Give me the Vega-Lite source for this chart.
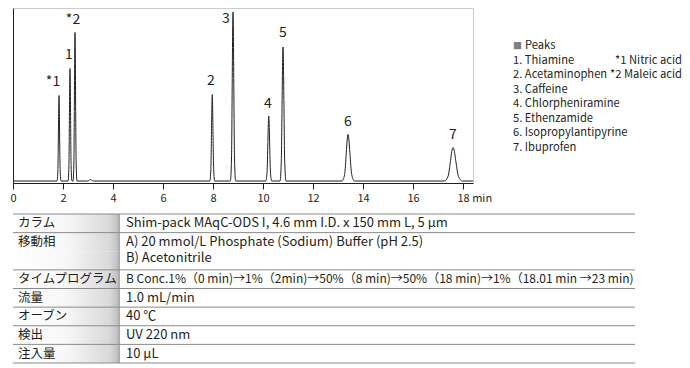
{
  "$schema": "https://vega.github.io/schema/vega-lite/v6.json",
  "padding": {"left": 9, "top": 7, "right": 0, "bottom": 0},
  "spacing": 9,
  "config": {
    "font": "Noto Sans CJK JP",
    "view": {"stroke": null},
    "text": {"color": "#231f20"}
  },
  "datasets": {
    "trace": [
      {"t": 0, "s": 0},
      {"t": 1.763, "s": 0}, {"t": 1.796, "s": 11.6}, {"t": 1.818, "s": 51.9}, {"t": 1.829, "s": 75.4}, {"t": 1.84, "s": 85.5}, {"t": 1.851, "s": 75.4}, {"t": 1.862, "s": 51.9}, {"t": 1.884, "s": 11.6}, {"t": 1.92, "s": 0},
      {"t": 2.203, "s": 0}, {"t": 2.236, "s": 15.2}, {"t": 2.258, "s": 68.3}, {"t": 2.269, "s": 99.3}, {"t": 2.28, "s": 112.5}, {"t": 2.291, "s": 99.3}, {"t": 2.302, "s": 68.3}, {"t": 2.324, "s": 15.2}, {"t": 2.36, "s": 0},
      {"t": 2.403, "s": 0}, {"t": 2.436, "s": 20.1}, {"t": 2.458, "s": 90.1}, {"t": 2.469, "s": 131}, {"t": 2.48, "s": 148.5}, {"t": 2.491, "s": 131}, {"t": 2.502, "s": 90.1}, {"t": 2.524, "s": 20.1}, {"t": 2.56, "s": 0},
      {"t": 2.98, "s": 0}, {"t": 3.06, "s": 0.9}, {"t": 3.1, "s": 1.5}, {"t": 3.14, "s": 0.9}, {"t": 3.22, "s": 0},
      {"t": 7.87, "s": 0}, {"t": 7.914, "s": 11.7}, {"t": 7.942, "s": 52.5}, {"t": 7.956, "s": 76.3}, {"t": 7.97, "s": 86.5}, {"t": 7.984, "s": 76.3}, {"t": 7.998, "s": 52.5}, {"t": 8.026, "s": 11.7}, {"t": 8.07, "s": 0},
      {"t": 8.695, "s": 0}, {"t": 8.74, "s": 23}, {"t": 8.77, "s": 102.5}, {"t": 8.785, "s": 149}, {"t": 8.8, "s": 169}, {"t": 8.815, "s": 149}, {"t": 8.83, "s": 102.5}, {"t": 8.86, "s": 23}, {"t": 8.905, "s": 0},
      {"t": 10.11, "s": 0}, {"t": 10.162, "s": 8.8}, {"t": 10.196, "s": 39.4}, {"t": 10.213, "s": 57.4}, {"t": 10.23, "s": 65}, {"t": 10.247, "s": 57.4}, {"t": 10.264, "s": 39.4}, {"t": 10.298, "s": 8.8}, {"t": 10.35, "s": 0},
      {"t": 10.68, "s": 0}, {"t": 10.73, "s": 18.1}, {"t": 10.765, "s": 81.3}, {"t": 10.783, "s": 118.3}, {"t": 10.8, "s": 134}, {"t": 10.818, "s": 118.3}, {"t": 10.835, "s": 81.3}, {"t": 10.87, "s": 18.1}, {"t": 10.92, "s": 0},
      {"t": 13.16, "s": 0}, {"t": 13.264, "s": 6.3}, {"t": 13.332, "s": 28.2}, {"t": 13.366, "s": 41}, {"t": 13.4, "s": 46.5}, {"t": 13.437, "s": 41}, {"t": 13.475, "s": 28.2}, {"t": 13.55, "s": 6.3}, {"t": 13.66, "s": 0},
      {"t": 17.25, "s": 0}, {"t": 17.4, "s": 4.5}, {"t": 17.5, "s": 20.3}, {"t": 17.55, "s": 29.6}, {"t": 17.6, "s": 33.5}, {"t": 17.655, "s": 29.6}, {"t": 17.71, "s": 20.3}, {"t": 17.82, "s": 4.5}, {"t": 17.98, "s": 0},
      {"t": 18.4, "s": 0}
    ],
    "peaklabels": [
      {"label": "*1", "t": 1.6, "s": 99},
      {"label": "1", "t": 2.24, "s": 126},
      {"label": "*2", "t": 2.4, "s": 161},
      {"label": "2", "t": 7.92, "s": 100},
      {"label": "3", "t": 8.52, "s": 162},
      {"label": "4", "t": 10.2, "s": 77},
      {"label": "5", "t": 10.8, "s": 148},
      {"label": "6", "t": 13.4, "s": 59},
      {"label": "7", "t": 17.6, "s": 46}
    ],
    "legend": [
      {"line": 0, "col": "left", "text": "Peaks"},
      {"line": 1, "col": "left", "text": "1. Thiamine"},
      {"line": 1, "col": "right", "text": "*1 Nitric acid"},
      {"line": 2, "col": "left", "text": "2. Acetaminophen"},
      {"line": 2, "col": "right", "text": "*2 Maleic acid"},
      {"line": 3, "col": "left", "text": "3. Caffeine"},
      {"line": 4, "col": "left", "text": "4. Chlorpheniramine"},
      {"line": 5, "col": "left", "text": "5. Ethenzamide"},
      {"line": 6, "col": "left", "text": "6. Isopropylantipyrine"},
      {"line": 7, "col": "left", "text": "7. Ibuprofen"}
    ],
    "params": [
      {"slot": 0, "line": 1, "item": "カラム", "col": "c", "text": "Shim-pack MAqC-ODS I, 4.6 mm I.D. x 150 mm L, 5 μm"},
      {"slot": 1, "line": 1, "item": "移動相", "col": "c", "text": "A) 20 mmol/L Phosphate (Sodium) Buffer (pH 2.5)"},
      {"slot": 2, "line": 2, "item": "移動相", "col": "c", "text": "B) Acetonitrile"},
      {"slot": 3, "line": 1, "item": "タイムプログラム", "col": "c", "text": "B Conc.1%（0 min)→1%（2min)→50%（8 min)→50%（18 min)→1%（18.01 min →23 min)"},
      {"slot": 4, "line": 1, "item": "流量", "col": "c", "text": "1.0 mL/min"},
      {"slot": 5, "line": 1, "item": "オーブン", "col": "c", "text": "40 ℃"},
      {"slot": 6, "line": 1, "item": "検出", "col": "c", "text": "UV 220 nm"},
      {"slot": 7, "line": 1, "item": "注入量", "col": "c", "text": "10 μL"}
    ]
  },
  "vconcat": [
    {
      "bounds": "flush",
      "spacing": 40,
      "hconcat": [
        {
          "width": 460,
          "height": 175,
          "view": {"stroke": "#cccccc"},
          "layer": [
            {
              "data": {"name": "trace"},
              "mark": {"type": "line", "interpolate": "monotone", "color": "#231f20", "strokeWidth": 1},
              "encoding": {
                "x": {
                  "field": "t", "type": "quantitative",
                  "scale": {"domain": [0, 18.4], "nice": false, "zero": false},
                  "axis": {
                    "title": null, "grid": false,
                    "values": [0, 1, 2, 3, 4, 5, 6, 7, 8, 9, 10, 11, 12, 13, 14, 15, 16, 17, 18],
                    "domainColor": "#231f20", "tickColor": "#231f20",
                    "tickSize": {"condition": {"test": "datum.value % 2 === 1", "value": 3}, "value": 6},
                    "labelExpr": "datum.value % 2 === 1 ? '' : (datum.value === 18 ? '18 min' : datum.label)",
                    "labelAlign": {"condition": {"test": "datum.value === 18", "value": "left"}, "value": "center"},
                    "labelOffset": {"condition": {"test": "datum.value === 18", "value": -6}, "value": 0},
                    "labelFlush": false, "labelOverlap": false, "labelBound": false,
                    "labelFontSize": 11, "labelColor": "#231f20", "labelPadding": 3
                  }
                },
                "y": {
                  "field": "s", "type": "quantitative",
                  "scale": {"domain": [-2, 173], "nice": false, "zero": false},
                  "axis": {"title": null, "ticks": false, "labels": false, "grid": false, "domainColor": "#231f20"}
                }
              }
            },
            {
              "data": {"name": "peaklabels"},
              "mark": {"type": "text", "fontSize": 14, "baseline": "middle"},
              "encoding": {
                "x": {"field": "t", "type": "quantitative"},
                "y": {"field": "s", "type": "quantitative"},
                "text": {"field": "label"}
              }
            }
          ]
        },
        {
          "width": 169,
          "height": 175,
          "data": {"name": "legend"},
          "encoding": {
            "x": {"field": "col", "type": "nominal", "scale": {"type": "point", "domain": ["left", "right"], "padding": 0}, "axis": null},
            "y": {"field": "line", "type": "quantitative", "scale": {"domain": [-2.61, 9.4], "reverse": true, "nice": false, "zero": false}, "axis": null}
          },
          "layer": [
            {
              "transform": [{"filter": "datum.col === 'left' && datum.line > 0"}],
              "mark": {"type": "text", "align": "left", "baseline": "middle", "fontSize": 11.2},
              "encoding": {"text": {"field": "text"}}
            },
            {
              "transform": [{"filter": "datum.line === 0"}],
              "mark": {"type": "text", "align": "left", "baseline": "middle", "fontSize": 11.2, "dx": 12},
              "encoding": {"text": {"field": "text"}}
            },
            {
              "transform": [{"filter": "datum.line === 0"}],
              "mark": {"type": "text", "align": "left", "baseline": "middle", "fontSize": 9, "color": "#808080"},
              "encoding": {"text": {"value": "■"}}
            },
            {
              "transform": [{"filter": "datum.col === 'right'"}],
              "mark": {"type": "text", "align": "right", "baseline": "middle", "fontSize": 11.2},
              "encoding": {"text": {"field": "text"}}
            }
          ]
        }
      ]
    },
    {
      "bounds": "flush",
      "spacing": 0,
      "hconcat": [
        {
          "width": 107,
          "height": 149,
          "data": {"name": "params"},
          "encoding": {
            "y": {"field": "slot", "type": "ordinal", "scale": {"type": "band", "paddingInner": 0, "paddingOuter": 0}, "axis": null}
          },
          "layer": [
            {
              "mark": {"type": "rect", "color": {"gradient": "linear", "x1": 0, "x2": 1, "y1": 0, "y2": 0, "stops": [{"offset": 0, "color": "#ffffff"}, {"offset": 0.5, "color": "#f7f7f7"}, {"offset": 0.9, "color": "#d9d9d9"}, {"offset": 0.97, "color": "#c4c4c4"}, {"offset": 1, "color": "#a5a5a5"}]}},
              "encoding": {}
            },
            {
              "transform": [{"filter": "datum.line === 1"}],
              "mark": {"type": "rule", "color": "#8a8a8a", "strokeWidth": 1},
              "encoding": {"y": {"field": "slot", "type": "ordinal", "bandPosition": 0}}
            },
            {
              "transform": [{"filter": "datum.slot === 7"}],
              "mark": {"type": "rule", "color": "#8a8a8a", "strokeWidth": 1},
              "encoding": {"y": {"field": "slot", "type": "ordinal", "bandPosition": 1}}
            },
            {
              "transform": [{"filter": "datum.line === 1"}],
              "mark": {"type": "text", "align": "left", "baseline": "middle", "fontSize": 12.5, "dx": 5},
              "encoding": {
                "x": {"field": "col", "type": "nominal", "scale": {"type": "point", "padding": 0, "align": 0}, "axis": null},
                "text": {"field": "item"}
              }
            }
          ]
        },
        {
          "width": 515,
          "height": 149,
          "data": {"name": "params"},
          "encoding": {
            "y": {"field": "slot", "type": "ordinal", "scale": {"type": "band", "paddingInner": 0, "paddingOuter": 0}, "axis": null},
            "x": {"field": "col", "type": "nominal", "scale": {"type": "point", "padding": 0, "align": 0}, "axis": null}
          },
          "layer": [
            {
              "transform": [{"filter": "datum.line === 1"}],
              "mark": {"type": "rule", "color": "#8a8a8a", "strokeWidth": 1},
              "encoding": {"x": null, "y": {"field": "slot", "type": "ordinal", "bandPosition": 0}}
            },
            {
              "transform": [{"filter": "datum.slot === 7"}],
              "mark": {"type": "rule", "color": "#8a8a8a", "strokeWidth": 1},
              "encoding": {"x": null, "y": {"field": "slot", "type": "ordinal", "bandPosition": 1}}
            },
            {
              "transform": [{"filter": "datum.line === 1 && datum.slot !== 3"}],
              "mark": {"type": "text", "align": "left", "baseline": "middle", "fontSize": 13, "dx": 6},
              "encoding": {"text": {"field": "text"}}
            },
            {
              "transform": [{"filter": "datum.slot === 3"}],
              "mark": {"type": "text", "align": "left", "baseline": "middle", "fontSize": 12, "dx": 6},
              "encoding": {"text": {"field": "text"}}
            },
            {
              "transform": [{"filter": "datum.line === 2"}],
              "mark": {"type": "text", "align": "left", "baseline": "middle", "fontSize": 13, "dx": 6, "dy": -3},
              "encoding": {"text": {"field": "text"}}
            }
          ]
        }
      ]
    }
  ]
}
